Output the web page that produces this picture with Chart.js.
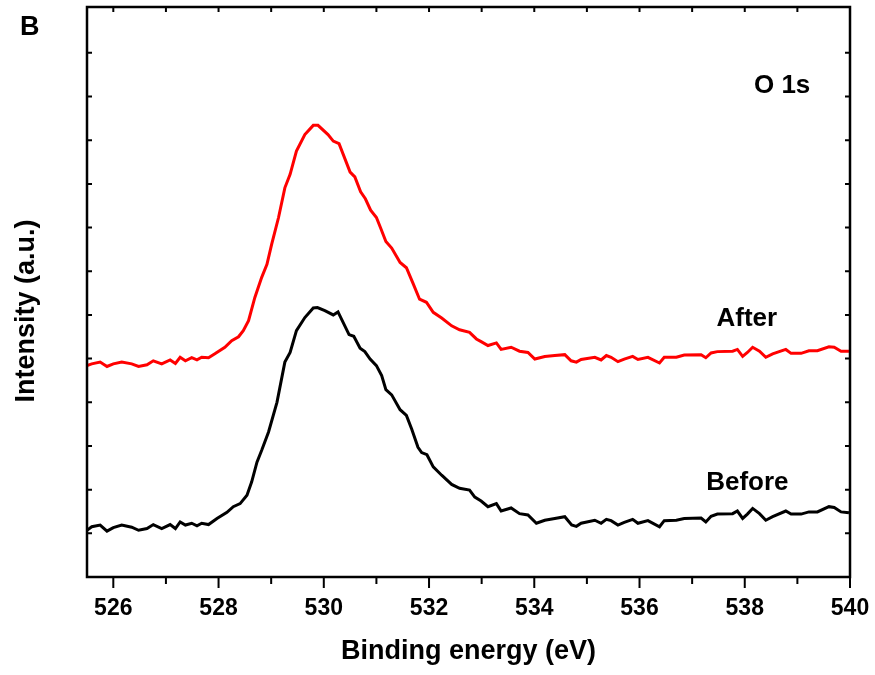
<!DOCTYPE html>
<html>
<head>
<meta charset="utf-8">
<script src="https://cdn.jsdelivr.net/npm/chart.js@4"></script>
<style>
  html, body { margin: 0; padding: 0; background: #fff; }
  canvas { display: block; }
</style>
</head>
<body>
<canvas id="xpsChart" width="875" height="675"></canvas>
<script>
// O 1s spectra, before and after treatment
const afterEnergy = [525.50, 525.59, 525.75, 525.88, 526.00, 526.16, 526.35, 526.48, 526.64, 526.76, 526.92, 527.08, 527.18, 527.27, 527.37, 527.49, 527.59, 527.68, 527.81, 527.93, 528.12, 528.25, 528.38, 528.47, 528.57, 528.69, 528.82, 528.92, 529.01, 529.14, 529.26, 529.36, 529.48, 529.64, 529.80, 529.89, 530.08, 530.18, 530.29, 530.50, 530.59, 530.70, 530.79, 530.89, 531.00, 531.08, 531.18, 531.29, 531.45, 531.57, 531.70, 531.82, 531.95, 532.08, 532.24, 532.43, 532.58, 532.77, 532.90, 532.99, 533.12, 533.28, 533.37, 533.56, 533.72, 533.88, 534.01, 534.20, 534.39, 534.58, 534.70, 534.80, 534.89, 535.15, 535.27, 535.37, 535.46, 535.59, 535.71, 535.87, 535.97, 536.16, 536.38, 536.47, 536.70, 536.85, 537.17, 537.26, 537.36, 537.48, 537.77, 537.86, 537.96, 538.05, 538.15, 538.28, 538.40, 538.53, 538.78, 538.88, 539.07, 539.22, 539.38, 539.60, 539.70, 539.83, 539.98];
const afterIntensity = [4.84, 4.88, 4.92, 4.82, 4.88, 4.92, 4.88, 4.82, 4.86, 4.95, 4.88, 4.97, 4.89, 5.03, 4.95, 5.02, 4.97, 5.03, 5.02, 5.11, 5.26, 5.41, 5.50, 5.64, 5.87, 6.40, 6.86, 7.16, 7.62, 8.23, 8.91, 9.22, 9.75, 10.13, 10.34, 10.34, 10.13, 9.98, 9.92, 9.27, 9.16, 8.82, 8.66, 8.40, 8.23, 7.99, 7.68, 7.53, 7.20, 7.08, 6.71, 6.36, 6.29, 6.06, 5.93, 5.75, 5.66, 5.60, 5.45, 5.39, 5.30, 5.36, 5.21, 5.26, 5.17, 5.14, 4.99, 5.05, 5.07, 5.09, 4.95, 4.92, 4.98, 5.03, 4.97, 5.07, 5.03, 4.93, 4.99, 5.05, 4.98, 5.03, 4.90, 5.03, 5.03, 5.08, 5.09, 5.02, 5.13, 5.16, 5.17, 5.21, 5.05, 5.14, 5.26, 5.17, 5.03, 5.11, 5.21, 5.12, 5.12, 5.18, 5.18, 5.27, 5.26, 5.17, 5.17];

const beforeEnergy = [525.50, 525.59, 525.75, 525.88, 526.00, 526.16, 526.35, 526.48, 526.64, 526.76, 526.92, 527.08, 527.18, 527.27, 527.37, 527.49, 527.59, 527.68, 527.81, 527.97, 528.16, 528.28, 528.41, 528.54, 528.63, 528.73, 528.82, 528.95, 529.11, 529.26, 529.36, 529.48, 529.64, 529.80, 529.88, 530.02, 530.18, 530.27, 530.48, 530.57, 530.69, 530.78, 530.88, 531.00, 531.10, 531.18, 531.29, 531.45, 531.57, 531.67, 531.79, 531.86, 531.96, 532.08, 532.24, 532.43, 532.58, 532.77, 532.87, 532.99, 533.12, 533.28, 533.37, 533.56, 533.72, 533.88, 534.04, 534.20, 534.39, 534.58, 534.71, 534.80, 534.89, 535.15, 535.27, 535.37, 535.46, 535.59, 535.71, 535.87, 535.97, 536.16, 536.38, 536.47, 536.70, 536.85, 537.17, 537.26, 537.36, 537.48, 537.77, 537.86, 537.96, 538.05, 538.15, 538.28, 538.40, 538.53, 538.78, 538.88, 539.07, 539.22, 539.38, 539.60, 539.70, 539.83, 539.98];
const beforeIntensity = [1.07, 1.15, 1.19, 1.05, 1.13, 1.19, 1.14, 1.07, 1.11, 1.20, 1.11, 1.20, 1.11, 1.26, 1.19, 1.23, 1.17, 1.23, 1.20, 1.34, 1.48, 1.61, 1.68, 1.87, 2.18, 2.63, 2.90, 3.32, 4.00, 4.92, 5.14, 5.64, 5.94, 6.16, 6.17, 6.10, 6.00, 6.07, 5.55, 5.51, 5.24, 5.16, 4.99, 4.84, 4.61, 4.29, 4.17, 3.83, 3.70, 3.39, 2.97, 2.85, 2.80, 2.52, 2.33, 2.12, 2.03, 1.99, 1.83, 1.74, 1.61, 1.68, 1.51, 1.58, 1.45, 1.42, 1.23, 1.30, 1.34, 1.38, 1.19, 1.16, 1.23, 1.30, 1.23, 1.32, 1.29, 1.19, 1.25, 1.32, 1.23, 1.29, 1.15, 1.29, 1.30, 1.34, 1.35, 1.26, 1.39, 1.44, 1.45, 1.51, 1.34, 1.44, 1.57, 1.45, 1.30, 1.38, 1.51, 1.44, 1.44, 1.49, 1.49, 1.61, 1.59, 1.49, 1.47];

// axis ticks
const xMajorTicks = [526, 528, 530, 532, 534, 536, 538, 540];
const xMinorTicks = [527, 529, 531, 533, 535, 537, 539];
const yTicks = [1, 2, 3, 4, 5, 6, 7, 8, 9, 10, 11, 12];

// in-plot labels: [text, energy, intensity]
const curveLabels = [
  ['O 1s', 538.71, 11.07],
  ['After', 538.04, 5.75],
  ['Before', 538.05, 1.99]
];

const FONT = "'Liberation Sans', Arial, sans-serif";

const toPoints = (xs, ys) => xs.map((e, i) => ({ x: e, y: ys[i] }));

// frame, tick marks and text drawn on top of the scales
const framePlugin = {
  id: 'framePlugin',
  afterDraw(chart) {
    const { ctx, chartArea: a, scales: { x, y } } = chart;
    ctx.save();
    ctx.strokeStyle = '#000';
    ctx.lineWidth = 2;
    ctx.beginPath();
    xMajorTicks.forEach(v => {
      const px = x.getPixelForValue(v);
      ctx.moveTo(px, a.bottom); ctx.lineTo(px, a.bottom + 11);
    });
    xMinorTicks.forEach(v => {
      const px = x.getPixelForValue(v);
      ctx.moveTo(px, a.bottom); ctx.lineTo(px, a.bottom + 7);
    });
    xMajorTicks.concat(xMinorTicks).forEach(v => {
      const px = x.getPixelForValue(v);
      ctx.moveTo(px, a.top); ctx.lineTo(px, a.top + 5);
    });
    yTicks.forEach(v => {
      const py = y.getPixelForValue(v);
      ctx.moveTo(a.left, py); ctx.lineTo(a.left + 5, py);
      ctx.moveTo(a.right, py); ctx.lineTo(a.right - 5, py);
    });
    ctx.stroke();

    ctx.lineWidth = 2.5;
    ctx.strokeRect(a.left, a.top, a.right - a.left, a.bottom - a.top);

    ctx.fillStyle = '#000';
    ctx.textBaseline = 'alphabetic';
    ctx.textAlign = 'center';
    ctx.font = 'bold 26px ' + FONT;
    curveLabels.forEach(([t, e, v]) => {
      ctx.fillText(t, x.getPixelForValue(e), y.getPixelForValue(v));
    });

    // panel letter
    ctx.textAlign = 'left';
    ctx.font = 'bold 27px ' + FONT;
    ctx.fillText('B', 20, 35);

    // y axis title
    ctx.translate(27, (a.top + a.bottom) / 2 + 19);
    ctx.rotate(-Math.PI / 2);
    ctx.textAlign = 'center';
    ctx.textBaseline = 'middle';
    ctx.font = 'bold 27px ' + FONT;
    ctx.fillText('Intensity (a.u.)', 0, 0);
    ctx.restore();
  }
};

new Chart(document.getElementById('xpsChart'), {
  type: 'line',
  data: {
    datasets: [
      {
        label: 'After',
        data: toPoints(afterEnergy, afterIntensity),
        borderColor: '#ff0000',
        borderWidth: 3,
        pointRadius: 0,
        tension: 0
      },
      {
        label: 'Before',
        data: toPoints(beforeEnergy, beforeIntensity),
        borderColor: '#000000',
        borderWidth: 3,
        pointRadius: 0,
        tension: 0
      }
    ]
  },
  options: {
    responsive: false,
    animation: false,
    layout: { padding: { top: 7, right: 25, left: 0, bottom: 0 } },
    plugins: {
      legend: { display: false },
      tooltip: { enabled: false }
    },
    scales: {
      x: {
        type: 'linear',
        min: 525.5,
        max: 540,
        afterBuildTicks: s => { s.ticks = xMajorTicks.map(v => ({ value: v })); },
        afterFit: s => { s.height = 98; s.paddingLeft = 0; s.paddingRight = 0; },
        grid: { display: false, drawTicks: false },
        border: { display: false },
        ticks: {
          color: '#000',
          padding: 18,
          maxRotation: 0,
          font: { family: FONT, size: 23, weight: 'bold' }
        },
        title: {
          display: true,
          text: 'Binding energy (eV)',
          color: '#000',
          padding: { top: 0, bottom: 7 },
          font: { family: FONT, size: 27, weight: 'bold' }
        }
      },
      y: {
        min: 0,
        max: 13.05,
        afterFit: s => { s.width = 87; s.paddingTop = 0; s.paddingBottom = 0; },
        grid: { display: false, drawTicks: false },
        border: { display: false },
        ticks: { display: false }
      }
    }
  },
  plugins: [framePlugin]
});
</script>
</body>
</html>
